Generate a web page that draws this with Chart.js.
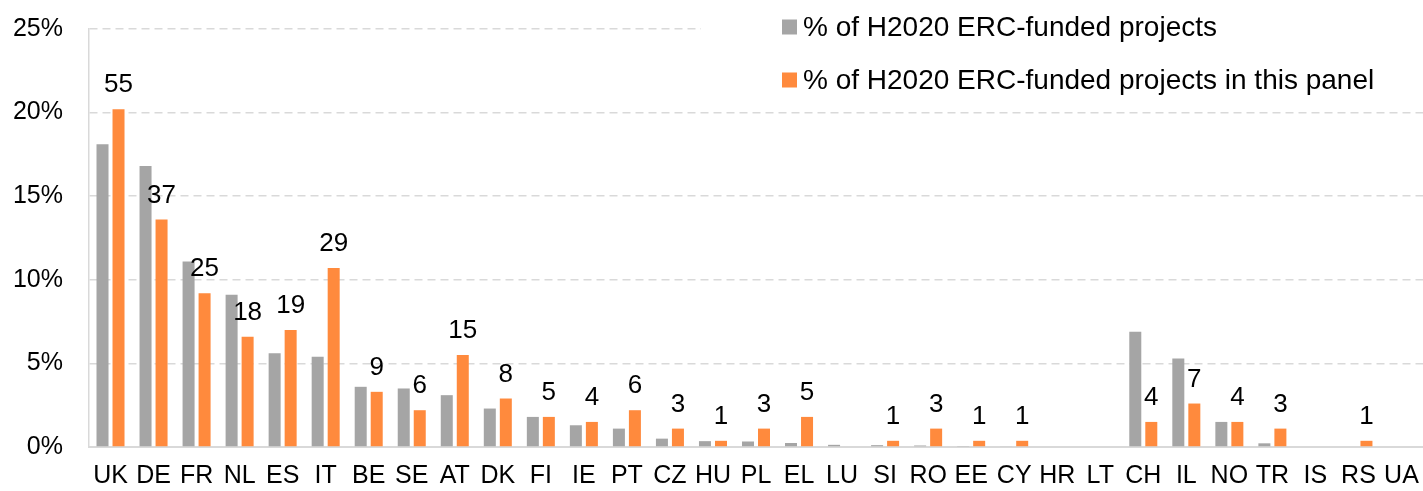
<!DOCTYPE html>
<html>
<head>
<meta charset="utf-8">
<script src="https://cdn.jsdelivr.net/npm/chart.js@4.4.1/dist/chart.umd.min.js"></script>
<style>
  html, body { margin: 0; padding: 0; background: #fff; overflow: hidden; }
  canvas { display: block; }
</style>
</head>
<body>
<canvas id="graf" width="1423" height="491"></canvas>
<script>
// Data
var countries = ["UK", "DE", "FR", "NL", "ES", "IT", "BE", "SE", "AT", "DK", "FI", "IE", "PT", "CZ", "HU", "PL",
  "EL", "LU", "SI", "RO", "EE", "CY", "HR", "LT", "CH", "IL", "NO", "TR", "IS", "RS", "UA"];
var seriesNames = ["% of H2020 ERC-funded projects", "% of H2020 ERC-funded projects in this panel"];
var allProjects = [18.1, 16.8, 11.1, 9.1, 5.6, 5.4, 3.6, 3.5, 3.1, 2.3, 1.8, 1.3, 1.1, 0.5, 0.35, 0.33,
  0.24, 0.13, 0.11, 0.09, 0.06, 0.05, 0, 0, 6.9, 5.3, 1.5, 0.22, 0, 0, 0];
var panelProjects = [20.2, 13.6, 9.2, 6.6, 7.0, 10.7, 3.3, 2.2, 5.5, 2.9, 1.8, 1.5, 2.2, 1.1, 0.37, 1.1,
  1.8, 0, 0.37, 1.1, 0.37, 0.37, 0, 0, 1.5, 2.6, 1.5, 1.1, 0, 0.37, 0];
var panelCounts = [55, 37, 25, 18, 19, 29, 9, 6, 15, 8, 5, 4, 6, 3, 1, 3,
  5, null, 1, 3, 1, 1, null, null, 4, 7, 4, 3, null, 1, null];
var yTicks = [0, 5, 10, 15, 20, 25];

var farver = ["#a5a5a5", "#ff8a3d"];
var skrift = "'Liberation Sans', Arial, sans-serif";

// Antal projekter over de orange søjler
var antalPlugin = {
  id: "antal",
  afterDatasetsDraw: function (chart) {
    var ctx = chart.ctx;
    var meta = chart.getDatasetMeta(1);
    ctx.save();
    ctx.font = "26px " + skrift;
    ctx.fillStyle = "#000";
    ctx.textAlign = "center";
    ctx.textBaseline = "alphabetic";
    meta.data.forEach(function (bar, i) {
      if (panelCounts[i] === null) return;
      ctx.fillText(String(panelCounts[i]), bar.x, bar.y - 17);
    });
    ctx.restore();
  },
};

// Forklaring oppe til højre
var forklaringPlugin = {
  id: "forklaring",
  afterDraw: function (chart) {
    var ctx = chart.ctx;
    ctx.save();
    ctx.fillStyle = "#fff";
    ctx.fillRect(701, 4, chart.width - 701, 100);
    ctx.font = "28px " + skrift;
    ctx.textBaseline = "middle";
    ctx.textAlign = "left";
    var rows = [27, 80];
    seriesNames.forEach(function (navn, i) {
      ctx.fillStyle = farver[i];
      ctx.fillRect(782, rows[i] - 7.5, 15, 15);
      ctx.fillStyle = "#000";
      ctx.fillText(navn, 803, rows[i] + 1);
    });
    ctx.restore();
  },
};

var graf = new Chart(document.getElementById("graf").getContext("2d"), {
  type: "bar",
  data: {
    labels: countries,
    datasets: [
      {
        label: seriesNames[0],
        data: allProjects,
        backgroundColor: farver[0],
        categoryPercentage: 0.744,
        barPercentage: 0.75,
      },
      {
        label: seriesNames[1],
        data: panelProjects,
        backgroundColor: farver[1],
        categoryPercentage: 0.744,
        barPercentage: 0.75,
      },
    ],
  },
  options: {
    responsive: false,
    animation: false,
    devicePixelRatio: 1,
    layout: { padding: { left: 13, top: 29, right: 0, bottom: 0 } },
    plugins: { legend: { display: false }, tooltip: { enabled: false } },
    scales: {
      x: {
        grid: { display: false, drawTicks: false },
        border: { color: "#d9d9d9", width: 2 },
        ticks: {
          color: "#000",
          font: { family: skrift, size: 25 },
          padding: 14,
          autoSkip: false,
          maxRotation: 0,
        },
        afterFit: function (axis) {
          axis.height = 44;
          axis.paddingLeft = 0;
          axis.paddingRight = 0;
        },
      },
      y: {
        min: 0,
        max: 25,
        afterBuildTicks: function (axis) {
          axis.ticks = yTicks.map(function (v) { return { value: v }; });
        },
        afterFit: function (axis) {
          axis.width = 76;
          axis.paddingTop = 0;
          axis.paddingBottom = 0;
        },
        grid: { color: "#d9d9d9", lineWidth: 1.5, drawTicks: false },
        border: { color: "#d9d9d9", width: 1.5, dash: [8, 5] },
        ticks: {
          color: "#000",
          font: { family: skrift, size: 25 },
          padding: 26,
          callback: function (v) { return v + "%"; },
        },
      },
    },
  },
  plugins: [antalPlugin, forklaringPlugin],
});
</script>
</body>
</html>
